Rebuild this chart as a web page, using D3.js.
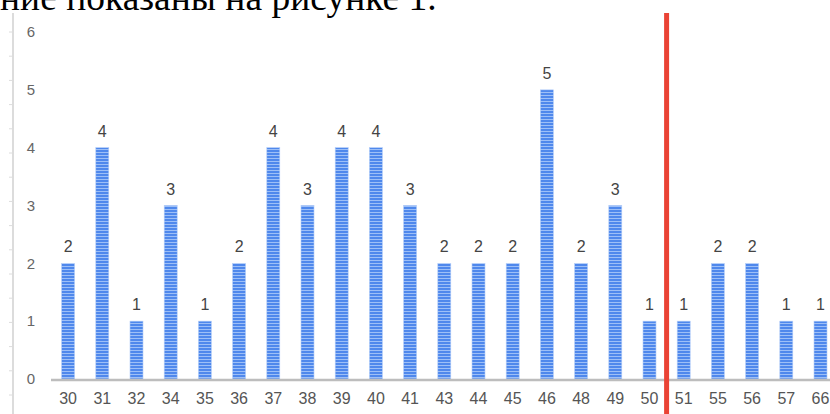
<!DOCTYPE html>
<html>
<head>
<meta charset="utf-8">
<script src="https://cdn.jsdelivr.net/npm/d3@7/dist/d3.min.js"></script>
<style>
  html, body { margin: 0; padding: 0; background: #fff; overflow: hidden; }
  svg { display: block; }
</style>
</head>
<body>
<svg id="chart" width="830" height="414"></svg>
<script>
// Counts per score
const categories = ["30","31","32","34","35","36","37","38","39","40","41","43","44","45","46","48","49","50","51","55","56","57","66"];
const counts = [2,4,1,3,1,2,4,3,4,4,3,2,2,2,5,2,3,1,1,2,2,1,1];
const yTicks = [0,1,2,3,4,5,6];
const caption = "ние показаны на рисунке 1.";
const cutAfter = "50"; // marker drawn after this category

const svg = d3.select("#chart");
const W = 830, H = 414;

// striped fill for bars
const defs = svg.append("defs");
const pat = defs.append("pattern")
  .attr("id", "stripes")
  .attr("patternUnits", "userSpaceOnUse")
  .attr("width", 4).attr("height", 3);
pat.append("rect").attr("width", 4).attr("height", 3).attr("fill", "#4f88ec");
pat.append("rect").attr("y", 2).attr("width", 4).attr("height", 1).attr("fill", "#9dbff7");

// caption text line above the chart
svg.append("text")
  .attr("x", 0).attr("y", 10)
  .attr("font-family", "'Liberation Serif', 'Times New Roman', serif")
  .attr("font-size", 37.5)
  .attr("fill", "#000")
  .text(caption);

// ruler on the left edge
const rulerX = 13;
svg.append("line")
  .attr("x1", rulerX).attr("x2", rulerX)
  .attr("y1", 13).attr("y2", H)
  .attr("stroke", "#dcdcdc").attr("stroke-width", 2);
svg.append("g").selectAll("line")
  .data(d3.range(32, H, 24.2))
  .join("line")
  .attr("x1", 9).attr("x2", rulerX)
  .attr("y1", d => d).attr("y2", d => d)
  .attr("stroke", "#dcdcdc").attr("stroke-width", 1);

const x = d3.scaleBand()
  .domain(categories)
  .range([51, 837.6])
  .paddingInner(0.62)
  .paddingOuter(0.31);

const y = d3.scaleLinear().domain([0, 6]).range([379, 32]);

// y labels
svg.append("g").selectAll("text")
  .data(yTicks)
  .join("text")
  .attr("x", 31).attr("y", d => y(d))
  .attr("dy", "0.35em")
  .attr("text-anchor", "middle")
  .attr("font-family", "Arial, 'Liberation Sans', sans-serif")
  .attr("font-size", 15)
  .attr("fill", "#666")
  .text(d => d);

// bars
svg.append("g").selectAll("rect")
  .data(categories)
  .join("rect")
  .attr("x", d => x(d))
  .attr("width", x.bandwidth())
  .attr("y", (d, i) => y(counts[i]))
  .attr("height", (d, i) => y(0) - y(counts[i]))
  .attr("fill", "url(#stripes)")
  .attr("stroke", "#b3cdf8").attr("stroke-width", 0.6);

// value labels
svg.append("g").selectAll("text")
  .data(categories)
  .join("text")
  .attr("x", d => x(d) + x.bandwidth() / 2)
  .attr("y", (d, i) => y(counts[i]) - 11)
  .attr("text-anchor", "middle")
  .attr("font-family", "Arial, 'Liberation Sans', sans-serif")
  .attr("font-size", 16)
  .attr("fill", "#444")
  .text((d, i) => counts[i]);

// baseline
svg.append("line")
  .attr("x1", 51).attr("x2", W)
  .attr("y1", y(0) + 1).attr("y2", y(0) + 1)
  .attr("stroke", "#bdbdbd").attr("stroke-width", 2.5);

// x labels
const xAxis = d3.axisBottom(x).tickSize(0).tickPadding(0);
const gx = svg.append("g").attr("transform", `translate(0,${y(0) + 12})`).call(xAxis);
gx.select(".domain").remove();
gx.selectAll("text")
  .attr("dy", "0.8em")
  .attr("font-family", "Arial, 'Liberation Sans', sans-serif")
  .attr("font-size", 16)
  .attr("fill", "#555");

// red divider between groups
const idx = categories.indexOf(cutAfter);
const divX = (x(categories[idx]) + x.bandwidth() + x(categories[idx + 1])) / 2;
svg.append("line")
  .attr("x1", divX).attr("x2", divX)
  .attr("y1", 13).attr("y2", H)
  .attr("stroke", "#ea4335").attr("stroke-width", 5);
</script>
</body>
</html>
